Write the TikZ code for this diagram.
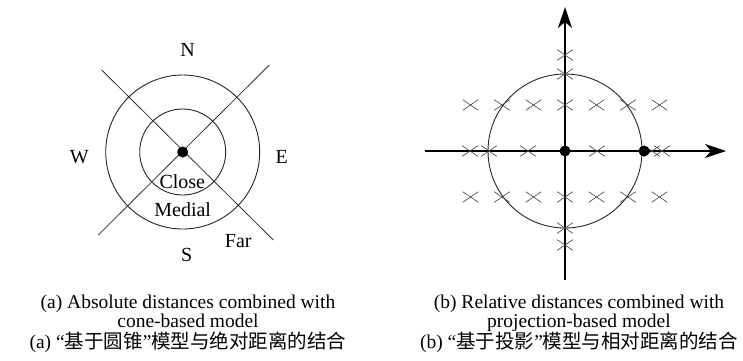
\documentclass[tikz,border=0pt]{standalone}
\usepackage{fontspec}
\setmainfont{Liberation Serif}
\newfontfamily\cjk{Noto Sans CJK SC}
\usetikzlibrary{arrows.meta,shapes.misc}
\begin{document}
\begin{tikzpicture}[x=1pt,y=-1pt,
  lbl/.style={font=\fontsize{20}{24}\selectfont, inner sep=0pt},
  capt/.style={font={\fontsize{19.5}{19}\selectfont\lineskiplimit=-20pt\relax}, inner sep=0pt, anchor=base, align=center},
  ring/.style={line width=0.9pt, black!85},
  ray/.style={line width=0.8pt, black!80},
  xmark/.style={draw=black!75, cross out, line width=0.6pt, minimum width=15pt, minimum height=10pt, inner sep=0pt},
  dot/.style={circle, fill=black, minimum size=11pt, inner sep=0pt},
  axisline/.style={line width=1.2pt, -{Stealth[length=21pt,width=14pt,inset=6pt]}}]
\useasboundingbox[fill=white] (0,0) rectangle (743,360);

% ---------- (a) cone-based model ----------
\coordinate (ca) at (182.7,152);
\draw[ring] (ca) circle[radius=43];
\draw[ring] (ca) circle[radius=77];
\coordinate (nw) at (101.7,70);
\coordinate (se) at (273.3,240);
\coordinate (ne) at (269.3,65);
\coordinate (sw) at (98.3,235);
\draw[ray] (nw) -- (se);
\draw[ray] (ne) -- (sw);
\node[dot] (da) at (ca) {};
\node[lbl] (lN) at (187.7,50) {N};
\node[lbl] (lW) at (79.3,156.7) {W};
\node[lbl] (lE) at (281.7,156.7) {E};
\node[lbl] (lS) at (186.7,255) {S};
\node[lbl] (lFar) at (238.3,240.7) {Far};
\node[lbl] (lClose) at (182.3,181.7) {Close};
\node[lbl] (lMedial) at (182.7,209.3) {Medial};

% ---------- (b) projection-based model ----------
\coordinate (cb) at (565,151);
\draw[ring] (cb) circle[radius=77];
\coordinate (hl) at (425,151);
\coordinate (hr) at (726,151);
\coordinate (vb) at (565,280);
\coordinate (vt) at (565,7);
\draw[axisline] (hl) -- (hr);
\draw[axisline] (vb) -- (vt);
\foreach \k in {-3,...,3} {
  \node[xmark] (rt\k) at ({565+31.5*\k},105) {};
  \node[xmark] (rb\k) at ({565+31.5*\k},197) {};
}
\foreach \yy [count=\i] in {55,74,228,245} {
  \node[xmark] (v\i) at (565,\yy) {};
}
\foreach \xx [count=\i] in {470,489,528,597,652,662} {
  \node[xmark] (h\i) at (\xx,151) {};
}
\node[dot] (db) at (cb) {};
\node[dot] (dr) at (644,151) {};

% ---------- captions ----------
\node[capt] (capA) at (188,348) {(a) Absolute distances combined with\\
  cone-based model\hspace*{20pt}\\[1.5pt]
  (a) “{\cjk 基于圆锥}”{\cjk 模型与绝对距离的结合}};
\node[capt] (capB) at (579,348) {(b) Relative distances combined with\\
  projection-based model\hspace*{14pt}\\[1.5pt]
  (b) “{\cjk 基于投影}”{\cjk 模型与相对距离的结合}};
\end{tikzpicture}
\end{document}
